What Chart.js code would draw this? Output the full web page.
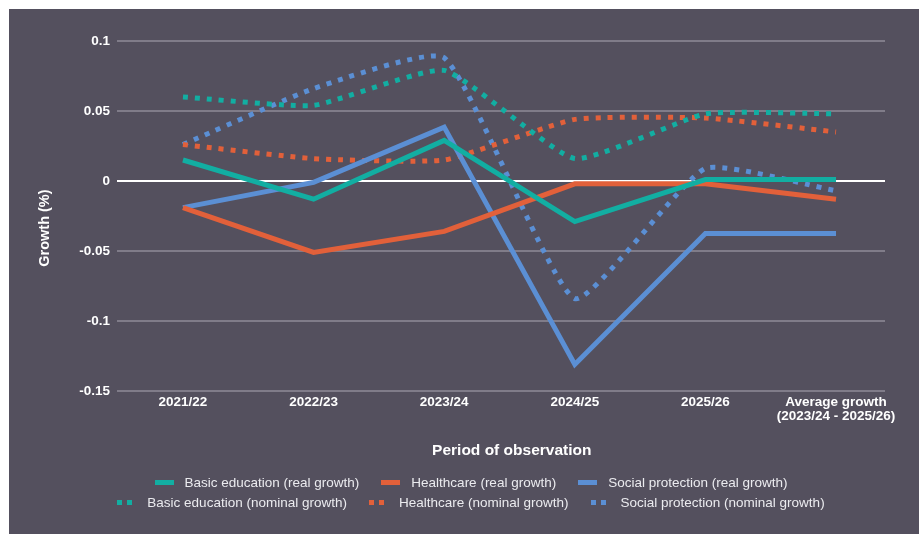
<!DOCTYPE html>
<html>
<head>
<meta charset="utf-8">
<script src="https://cdn.jsdelivr.net/npm/chart.js@4.4.1/dist/chart.umd.min.js"></script>
<style>
  html, body { margin: 0; padding: 0; background: #ffffff; }
  body { width: 919px; height: 534px; position: relative; overflow: hidden; }
  #panel { position: absolute; left: 9px; top: 9px; width: 910px; height: 525px; background: #54505e; }
  #c { position: absolute; left: 0; top: 0; }
  .row { position: absolute; left: 12px; width: 900px; display: flex; justify-content: center; align-items: center;
         font-family: "Liberation Sans", Arial, sans-serif; font-size: 13.5px; color: #ebebef; white-space: nowrap; }
  .item { display: flex; align-items: center; margin: 0 11px; }
  .sw { width: 19px; height: 5px; margin-right: 11px; }
</style>
</head>
<body>
<div id="panel">
  <canvas id="c" width="910" height="470"></canvas>
  <div class="row" id="row1" style="top:466px;"></div>
  <div class="row" id="row2" style="top:486px;"></div>
</div>
<script>
const categories = ['2021/22', '2022/23', '2023/24', '2024/25', '2025/26', ['Average growth', '(2023/24 - 2025/26)']];
const yTickLabels = ['0.1', '0.05', '0', '-0.05', '-0.1', '-0.15'];

const eduReal       = [0.015, -0.013, 0.029, -0.029, 0.001, 0.001];
const healthReal    = [-0.019, -0.051, -0.036, -0.002, -0.002, -0.013];
const socialReal    = [-0.019, -0.001, 0.0385, -0.131, -0.0375, -0.0375];
const eduNominal    = [0.060, 0.054, 0.079, 0.016, 0.048, 0.048];
const healthNominal = [0.026, 0.016, 0.015, 0.044, 0.045, 0.035];
const socialNominal = [0.026, 0.066, 0.088, -0.084, 0.009, -0.007];

const TEAL = '#12aea2', ORANGE = '#e2603a', BLUE = '#5b8fd4';

function pts(arr) { return arr.map((v, i) => ({ x: i, y: v })); }
function solid(label, arr, color) {
  return { label, data: pts(arr), borderColor: color, backgroundColor: color, borderWidth: 5,
           pointRadius: 0, tension: 0, borderCapStyle: 'butt', dotted: false };
}
function dotted(label, arr, color) {
  return { label, data: pts(arr), borderColor: color, backgroundColor: color, borderWidth: 5,
           pointRadius: 0, tension: 0.15, borderDash: [5, 7], borderCapStyle: 'butt', dotted: true };
}

const datasets = [
  solid('Basic education (real growth)', eduReal, TEAL),
  solid('Healthcare (real growth)', healthReal, ORANGE),
  solid('Social protection (real growth)', socialReal, BLUE),
  dotted('Basic education (nominal growth)', eduNominal, TEAL),
  dotted('Healthcare (nominal growth)', healthNominal, ORANGE),
  dotted('Social protection (nominal growth)', socialNominal, BLUE)
];

const chart = new Chart(document.getElementById('c'), {
  type: 'line',
  data: { datasets },
  options: {
    responsive: false,
    animation: false,
    devicePixelRatio: 1,
    layout: { padding: { left: 0, right: 34, top: 32, bottom: 0 } },
    plugins: { legend: { display: false }, tooltip: { enabled: false } },
    scales: {
      x: {
        type: 'linear',
        min: -0.505,
        max: 5.375,
        afterFit: s => { s.height = 88; },
        afterBuildTicks: s => { s.ticks = categories.map((c, i) => ({ value: i })); },
        grid: { display: false, drawTicks: false },
        border: { display: false },
        ticks: {
          autoSkip: false, maxRotation: 0, padding: 5,
          color: '#ffffff',
          font: { family: '"Liberation Sans", Arial, sans-serif', size: 13.5, weight: 'bold', lineHeight: 1.0 },
          callback: v => (Number.isInteger(v) && categories[v] !== undefined) ? categories[v] : ''
        },
        title: {
          display: true, text: '     Period of observation',
          color: '#ffffff', padding: { top: 0, bottom: 19 },
          font: { family: '"Liberation Sans", Arial, sans-serif', size: 15.5, weight: 'bold' }
        }
      },
      y: {
        min: -0.15, max: 0.1,
        afterFit: s => { s.width = 108; },
        afterBuildTicks: s => { s.ticks = yTickLabels.map(t => ({ value: parseFloat(t) })); },
        grid: {
          drawTicks: false,
          lineWidth: 2,
          color: ctx => (ctx.tick && Math.abs(ctx.tick.value) < 1e-9) ? '#ffffff' : '#807c89'
        },
        border: { display: false },
        ticks: {
          padding: 7, color: '#ffffff',
          font: { family: '"Liberation Sans", Arial, sans-serif', size: 13.5, weight: 'bold' },
          callback: (v, i) => yTickLabels.find(t => Math.abs(parseFloat(t) - v) < 1e-9) ?? ''
        },
        title: {
          display: true, text: 'Growth (%)      ',
          color: '#ffffff', padding: { top: 27, bottom: 0 },
          font: { family: '"Liberation Sans", Arial, sans-serif', size: 14.5, weight: 'bold' }
        }
      }
    }
  }
});

// HTML legend built from the chart's datasets
chart.data.datasets.forEach((ds, i) => {
  const row = document.getElementById(i < 3 ? 'row1' : 'row2');
  const item = document.createElement('div');
  item.className = 'item';
  const sw = document.createElement('span');
  sw.className = 'sw';
  const c = ds.borderColor;
  sw.style.background = ds.dotted
    ? `linear-gradient(to right, ${c} 0 5px, transparent 5px 10px, ${c} 10px 15px, transparent 15px)`
    : c;
  const txt = document.createElement('span');
  txt.textContent = ds.label;
  item.appendChild(sw);
  item.appendChild(txt);
  row.appendChild(item);
});
</script>
</body>
</html>
